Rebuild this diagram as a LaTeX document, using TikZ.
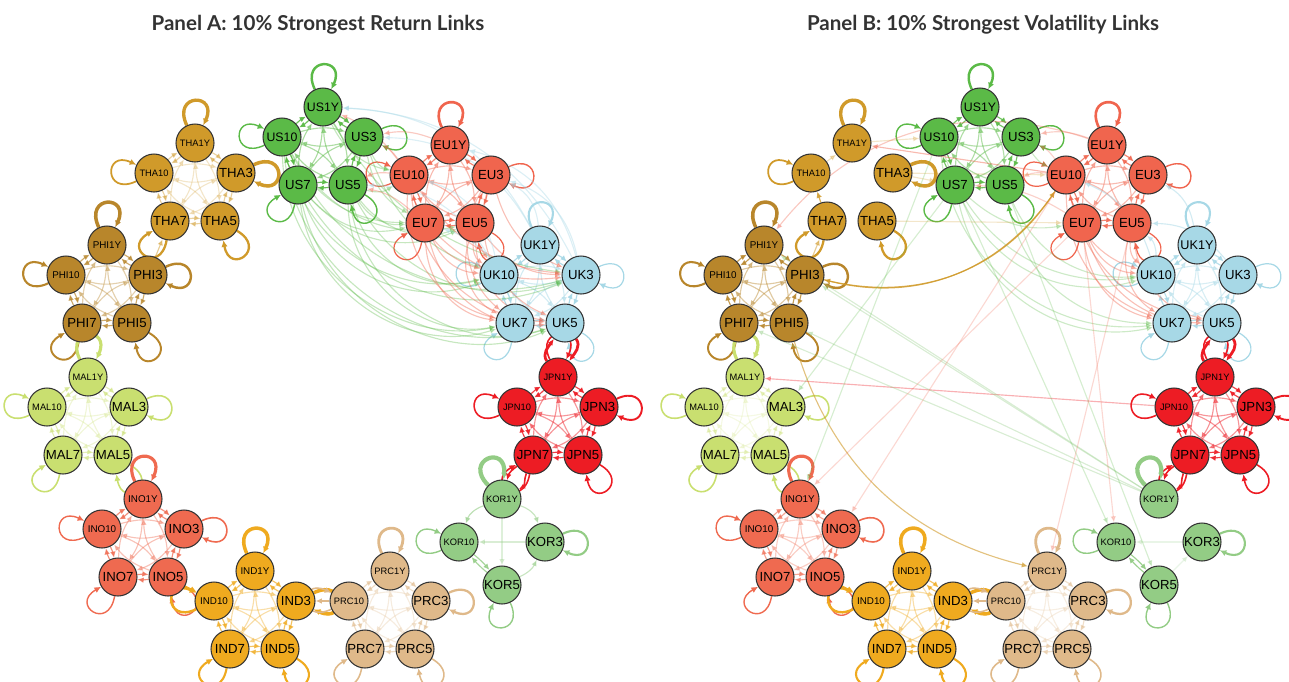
\documentclass[tikz,border=0pt]{standalone}
\usepackage{fontspec}
\setmainfont{Liberation Sans}
\newfontfamily\titlefont{Lato}
\usetikzlibrary{arrows.meta}

\definecolor{cUS}{HTML}{5BBA47}
\definecolor{cEU}{HTML}{F0654E}
\definecolor{cUK}{HTML}{A7D8E6}
\definecolor{cJPN}{HTML}{ED1C24}
\definecolor{cKOR}{HTML}{93CC85}
\definecolor{cPRC}{HTML}{DFB98A}
\definecolor{cIND}{HTML}{EFAA1F}
\definecolor{cINO}{HTML}{EF6A50}
\definecolor{cMAL}{HTML}{C9DF70}
\definecolor{cPHI}{HTML}{B8862B}
\definecolor{cTHA}{HTML}{D09A2A}
\definecolor{ttlgray}{HTML}{333333}

\pgfdeclarelayer{edges}
\pgfsetlayers{edges,main}

\tikzset{
  nd/.style={circle, draw=black!80, line width=0.6pt, minimum size=0.76cm, inner sep=0pt, font=\fontsize{7.5}{7.5}\selectfont},
  lk/.style={-{Latex[length=3.6pt,width=3.2pt]}, line width=0.65pt},
  slf/.style={-{Latex[length=3.8pt,width=3.6pt]}, line width=0.8pt, looseness=1, min distance=0.72cm},
  ttl/.style={font=\titlefont\bfseries\fontsize{11.7}{12}\selectfont, text=ttlgray}
}

\begin{document}
\begin{tikzpicture}[x=0.02cm, y=-0.02cm]
\useasboundingbox (0,0) rectangle (1289,681);

% titles
\node[ttl] (ttlA) at (318,25) {Panel A: 10\% Strongest Return Links};
\node[ttl] (ttlB) at (983,25) {Panel B: 10\% Strongest Volatility Links};

% markets, same layout in both panels
\foreach \pn/\dx in {a/0, b/657}{
  \foreach \cl/\x/\y/\col/\fz in {US/323/107/cUS/7, EU/450/145/cEU/7.2, UK/540/245/cUK/7.2, JPN/558/377/cJPN/5.3, THA/195/143/cTHA/5.3, PHI/107/245/cPHI/5.6, MAL/88/377/cMAL/5.3, INO/143/499/cINO/5.6, IND/255/571/cIND/5.6, PRC/390/571/cPRC/5.3}{
    \node[nd, fill=\col, font=\fontsize{\fz}{\fz}\selectfont] (\pn\cl1Y) at (\x+\dx,\y) {\cl1Y};
    \node[nd, fill=\col, font=\fontsize{\fz}{\fz}\selectfont] (\pn\cl10) at (\x+\dx-41,\y+30) {\cl10};
    \node[nd, fill=\col] (\pn\cl3) at (\x+\dx+41,\y+30) {\cl3};
    \node[nd, fill=\col] (\pn\cl7) at (\x+\dx-25,\y+78) {\cl7};
    \node[nd, fill=\col] (\pn\cl5) at (\x+\dx+25,\y+78) {\cl5};
  }
  % korea has four
  \node[nd, fill=cKOR, font=\fontsize{5.3}{5.3}\selectfont] (\pn KOR1Y) at (502+\dx,499) {KOR1Y};
  \node[nd, fill=cKOR, font=\fontsize{5.3}{5.3}\selectfont] (\pn KOR10) at (459+\dx,542) {KOR10};
  \node[nd, fill=cKOR] (\pn KOR3) at (545+\dx,542) {KOR3};
  \node[nd, fill=cKOR] (\pn KOR5) at (502+\dx,585) {KOR5};
}

\begin{pgfonlayer}{edges}
% self loops
\foreach \pn in {a,b}{
  \foreach \cl/\col/\wa/\wb/\wc/\wd/\we in {US/cUS/1.4/0.8/0.8/0.8/0.8, EU/cEU/1.5/0.7/0.8/0.7/0.7, UK/cUK/1.2/0.7/0.7/0.7/0.7, JPN/cJPN/0.9/0.9/1.1/0.9/0.9, THA/cTHA/1.9/1.0/2.0/1.3/1.3, PHI/cPHI/2.0/1.2/1.4/1.1/1.1, MAL/cMAL/1.8/0.9/0.9/0.9/0.9, INO/cINO/1.8/0.8/0.9/0.8/0.8, IND/cIND/2.0/1.4/2.0/1.2/1.2, PRC/cPRC/1.6/0.9/1.3/0.9/0.9}{
    \draw[slf, color=\col, line width=\wa pt] (\pn\cl1Y) to[out=115, in=65] (\pn\cl1Y);
    \draw[slf, color=\col, line width=\wb pt] (\pn\cl10) to[out=205, in=155] (\pn\cl10);
    \draw[slf, color=\col, line width=\wc pt] (\pn\cl3) to[out=25, in=-25] (\pn\cl3);
    \draw[slf, color=\col, line width=\wd pt] (\pn\cl7) to[out=260, in=210] (\pn\cl7);
    \draw[slf, color=\col, line width=\we pt] (\pn\cl5) to[out=330, in=280] (\pn\cl5);
  }
  \draw[slf, color=cKOR, line width=2.4pt] (\pn KOR1Y) to[out=135, in=85] (\pn KOR1Y);
  \draw[slf, color=cKOR] (\pn KOR10) to[out=205, in=155] (\pn KOR10);
  \draw[slf, color=cKOR, line width=1.2pt] (\pn KOR3) to[out=25, in=-25] (\pn KOR3);
  \draw[slf, color=cKOR] (\pn KOR5) to[out=295, in=245] (\pn KOR5);
  % japan to uk and korea
  \draw[lk, color=cJPN, line width=1.6pt] (\pn JPN1Y) to[out=125, in=235] (\pn UK5);
  \draw[lk, color=cJPN, line width=1.6pt] (\pn UK5) to[out=305, in=55] (\pn JPN1Y);
  \draw[lk, color=cJPN, line width=0.9pt] (\pn JPN7) to[out=250, in=30] (\pn KOR1Y);
  \draw[lk, color=cJPN, line width=0.9pt] (\pn JPN7) to[out=215, in=75] (\pn KOR1Y);
  % neighbours
  \draw[lk, color=cIND] (\pn INO5) to (\pn IND10);
  \draw[lk, color=cPRC, line width=1pt] (\pn PRC10) to (\pn IND3);
  \draw[lk, color=cTHA, opacity=0.5] (\pn PHI3) to (\pn THA7);
}

% panel A: inside each market
\foreach \cl/\col/\op in {US/cUS/0.9, EU/cEU/0.8, UK/cUK/0.9, JPN/cJPN/0.85, THA/cTHA/0.45, PHI/cPHI/0.7, MAL/cMAL/0.5, INO/cINO/0.75, IND/cIND/0.7, PRC/cPRC/0.5}{
  \pgfmathsetmacro\dop{0.55*\op}
  \foreach \s/\t in {1Y/10, 1Y/3, 10/7, 3/5, 7/5}{
    \draw[lk, color=\col, opacity=\op, bend left=7] (a\cl\s) to (a\cl\t);
    \draw[lk, color=\col, opacity=\op, bend left=7] (a\cl\t) to (a\cl\s);
  }
  \foreach \s/\t in {1Y/7, 1Y/5, 10/3, 10/5, 3/7}{
    \draw[lk, color=\col, opacity=\dop, bend left=16] (a\cl\s) to (a\cl\t);
    \draw[lk, color=\col, opacity=\dop, bend left=16] (a\cl\t) to (a\cl\s);
  }
}
\draw[lk, color=cKOR, opacity=0.6, bend right=25] (aKOR1Y) to (aKOR10);
\draw[lk, color=cKOR, opacity=0.5, bend left=25] (aKOR1Y) to (aKOR3);
\draw[lk, color=cKOR, opacity=0.3] (aKOR1Y) to (aKOR5);
\draw[lk, color=cKOR, opacity=0.8, bend left=5] (aKOR10) to (aKOR5);
\draw[lk, color=cKOR, opacity=0.8, bend left=5] (aKOR5) to (aKOR10);
\draw[lk, color=cKOR, opacity=0.5, bend right=20] (aKOR5) to (aKOR3);
\draw[lk, color=cKOR, opacity=0.35] (aKOR3) to (aKOR10);

% panel A: links between markets
\foreach \s in {US10, US7, US5}{
  \foreach \t/\b in {EU7/30, EU5/35, UK10/45, UK7/50, UK5/50, UK3/40}{
    \draw[lk, color=cUS, opacity=0.35, bend right=\b] (a\s) to (a\t);
  }
}
\foreach \s/\t in {US3/EU10, US1Y/EU10, US3/UK10, US5/EU10, US1Y/UK3, US3/EU7}
  \draw[lk, color=cUS, opacity=0.35, bend right=25] (a\s) to (a\t);
\foreach \s in {EU10, EU7, EU5, EU3}{
  \foreach \t/\b in {UK10/30, UK7/40, UK5/40, UK3/25}{
    \draw[lk, color=cEU, opacity=0.4, bend right=\b] (a\s) to (a\t);
  }
}
\foreach \s/\t in {EU10/US5, EU10/US3, EU7/US5, EU1Y/US3, EU10/US1Y}
  \draw[lk, color=cEU, opacity=0.35, bend right=15] (a\s) to (a\t);
\foreach \s/\t in {UK1Y/EU3, UK3/EU1Y, UK3/US1Y, UK1Y/US3, UK10/EU10, UK10/US5, UK3/EU3, UK1Y/US1Y, UK7/EU7}
  \draw[lk, color=cUK, opacity=0.4, bend right=30] (a\s) to (a\t);

% panel B: inside each market
\foreach \cl/\col/\op in {US/cUS/0.85, EU/cEU/0.8, UK/cUK/0.8, JPN/cJPN/0.85, PHI/cPHI/0.8, MAL/cMAL/0.35, INO/cINO/0.6, IND/cIND/0.7, PRC/cPRC/0.45}{
  \pgfmathsetmacro\dop{0.55*\op}
  \foreach \s/\t in {1Y/10, 1Y/3, 10/7, 3/5, 7/5}{
    \draw[lk, color=\col, opacity=\op, bend left=7] (b\cl\s) to (b\cl\t);
    \draw[lk, color=\col, opacity=\op, bend left=7] (b\cl\t) to (b\cl\s);
  }
  \foreach \s/\t in {1Y/7, 1Y/5, 10/3, 10/5, 3/7}{
    \draw[lk, color=\col, opacity=\dop, bend left=16] (b\cl\s) to (b\cl\t);
    \draw[lk, color=\col, opacity=\dop, bend left=16] (b\cl\t) to (b\cl\s);
  }
}
\draw[lk, color=cTHA, opacity=0.8] (bTHA7) to (bTHA10);
\draw[lk, color=cTHA, opacity=0.3] (bTHA10) to (bTHA1Y);
\draw[lk, color=cKOR, opacity=0.9, bend left=5] (bKOR10) to (bKOR5);
\draw[lk, color=cKOR, opacity=0.9, bend left=5] (bKOR5) to (bKOR10);
\draw[lk, color=cKOR, opacity=0.2] (bKOR3) to (bKOR10);
\draw[lk, color=cKOR, opacity=0.2] (bKOR5) to (bKOR3);

% panel B: links between markets
\foreach \s/\t/\b in {US7/UK10/40, US7/UK7/45, US5/UK7/40, US10/UK10/40, US5/UK10/35, US7/EU7/25, US3/EU10/15, US10/UK7/45}
  \draw[lk, color=cUS, opacity=0.3, bend right=\b] (b\s) to (b\t);
\foreach \s in {EU10, EU7, EU5}{
  \foreach \t/\b in {UK10/30, UK7/35, UK5/35}{
    \draw[lk, color=cEU, opacity=0.4, bend right=\b] (b\s) to (b\t);
  }
}
\foreach \s/\t in {EU10/US5, EU10/US3, EU1Y/US3, EU7/US7}
  \draw[lk, color=cEU, opacity=0.3, bend right=15] (b\s) to (b\t);
\foreach \s/\t in {UK1Y/EU3, UK3/EU5, UK10/EU5, UK10/EU10}
  \draw[lk, color=cUK, opacity=0.5, bend right=25] (b\s) to (b\t);
\draw[lk, color=cTHA, opacity=0.8, bend right=35] (bPHI3) to (bEU10);
\draw[lk, color=cTHA, opacity=0.8, bend left=35] (bEU10) to (bPHI3);
\draw[lk, color=cTHA, opacity=0.6, bend right=30] (bPHI5) to (bPRC1Y);
\draw[lk, color=cEU, opacity=0.35, bend right=35] (bEU1Y) to (bPHI1Y);
\draw[lk, color=cEU, opacity=0.45] (bEU10) to (bTHA1Y);
\draw[lk, color=cJPN, opacity=0.35] (bJPN10) to (bMAL1Y);
\foreach \t in {PHI1Y, PHI3, PHI5, PHI7}
  \draw[lk, color=cKOR, opacity=0.35] (bKOR1Y) to (b\t);
\foreach \s/\t in {US5/KOR5, US7/KOR10, US7/MAL3, US10/INO1Y}
  \draw[lk, color=cUS, opacity=0.25] (b\s) to (b\t);
\foreach \s/\t in {EU7/INO1Y, EU10/INO3, EU5/PRC1Y, EU7/KOR10}
  \draw[lk, color=cEU, opacity=0.25] (b\s) to (b\t);
\foreach \s/\t in {THA5/EU7, THA3/US7, THA3/EU10, THA1Y/US10}
  \draw[lk, color=cTHA, opacity=0.25] (b\s) to (b\t);
\end{pgfonlayer}

\end{tikzpicture}
\end{document}
